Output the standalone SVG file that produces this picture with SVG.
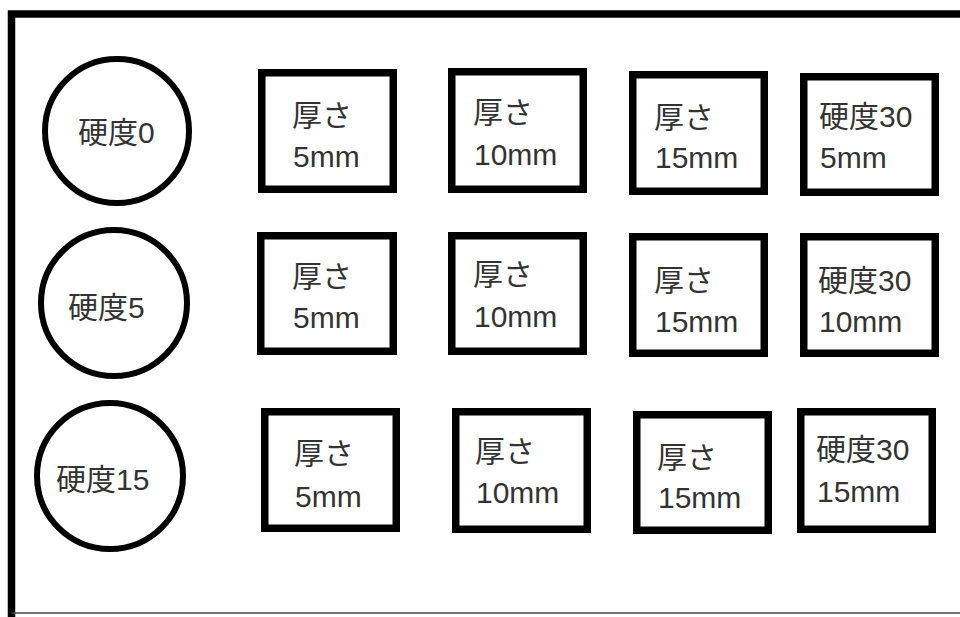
<svg xmlns="http://www.w3.org/2000/svg" width="960" height="617" viewBox="0 0 960 617">
<style>
.frame{fill:none;stroke:#000;stroke-width:7.5}
.thin{fill:none;stroke:#444;stroke-width:1.5}
.circ{fill:#fff;stroke:#000;stroke-width:6}
.box{fill:#fff;stroke:#000;stroke-width:7.5}
text{font-family:"Liberation Sans","Noto Sans CJK JP",sans-serif;font-size:30px;fill:#333}
</style>
<rect width="960" height="617" fill="#fff"/>
<g id="frame">
<path class="frame" d="M11.5 617 V14 H960"/>
<path class="thin" d="M11.5 613 H960"/>
</g>
<g id="c0"><circle class="circ" cx="117" cy="131" r="72"/><text x="78" y="143">硬度0</text></g>
<g id="c5"><circle class="circ" cx="114" cy="303" r="73"/><text x="68" y="318">硬度5</text></g>
<g id="c15"><circle class="circ" cx="110" cy="476" r="73"/><text x="56" y="490">硬度15</text></g>

<g id="r1b1"><rect class="box" x="261.75" y="72.75" width="131.5" height="116.5"/><text x="292" y="126">厚さ</text><text x="293" y="167">5mm</text></g>
<g id="r1b2"><rect class="box" x="451.75" y="71.75" width="131.5" height="117.5"/><text x="473" y="123">厚さ</text><text x="474" y="165">10mm</text></g>
<g id="r1b3"><rect class="box" x="632.75" y="74.75" width="131.5" height="116.5"/><text x="654" y="128">厚さ</text><text x="655" y="168">15mm</text></g>
<g id="r1b4"><rect class="box" x="803.75" y="76.75" width="131.5" height="115.5"/><text x="819" y="127">硬度30</text><text x="820" y="168">5mm</text></g>

<g id="r2b1"><rect class="box" x="260.75" y="235.75" width="132.5" height="115.5"/><text x="292" y="287">厚さ</text><text x="293" y="328">5mm</text></g>
<g id="r2b2"><rect class="box" x="451.75" y="235.75" width="131.5" height="115.5"/><text x="473" y="285">厚さ</text><text x="474" y="327">10mm</text></g>
<g id="r2b3"><rect class="box" x="632.75" y="236.75" width="131.5" height="116.5"/><text x="654" y="291">厚さ</text><text x="655" y="332">15mm</text></g>
<g id="r2b4"><rect class="box" x="803.75" y="236.75" width="131.5" height="116.5"/><text x="818" y="291">硬度30</text><text x="819" y="332">10mm</text></g>

<g id="r3b1"><rect class="box" x="264.75" y="411.75" width="131.5" height="116.5"/><text x="294" y="464">厚さ</text><text x="295" y="507">5mm</text></g>
<g id="r3b2"><rect class="box" x="455.75" y="411.75" width="131.5" height="117.5"/><text x="475" y="462">厚さ</text><text x="476" y="503">10mm</text></g>
<g id="r3b3"><rect class="box" x="636.75" y="414.75" width="131.5" height="115.5"/><text x="657" y="468">厚さ</text><text x="658" y="508">15mm</text></g>
<g id="r3b4"><rect class="box" x="800.75" y="411.75" width="131.5" height="117.5"/><text x="816" y="460">硬度30</text><text x="817" y="502">15mm</text></g>
</svg>
